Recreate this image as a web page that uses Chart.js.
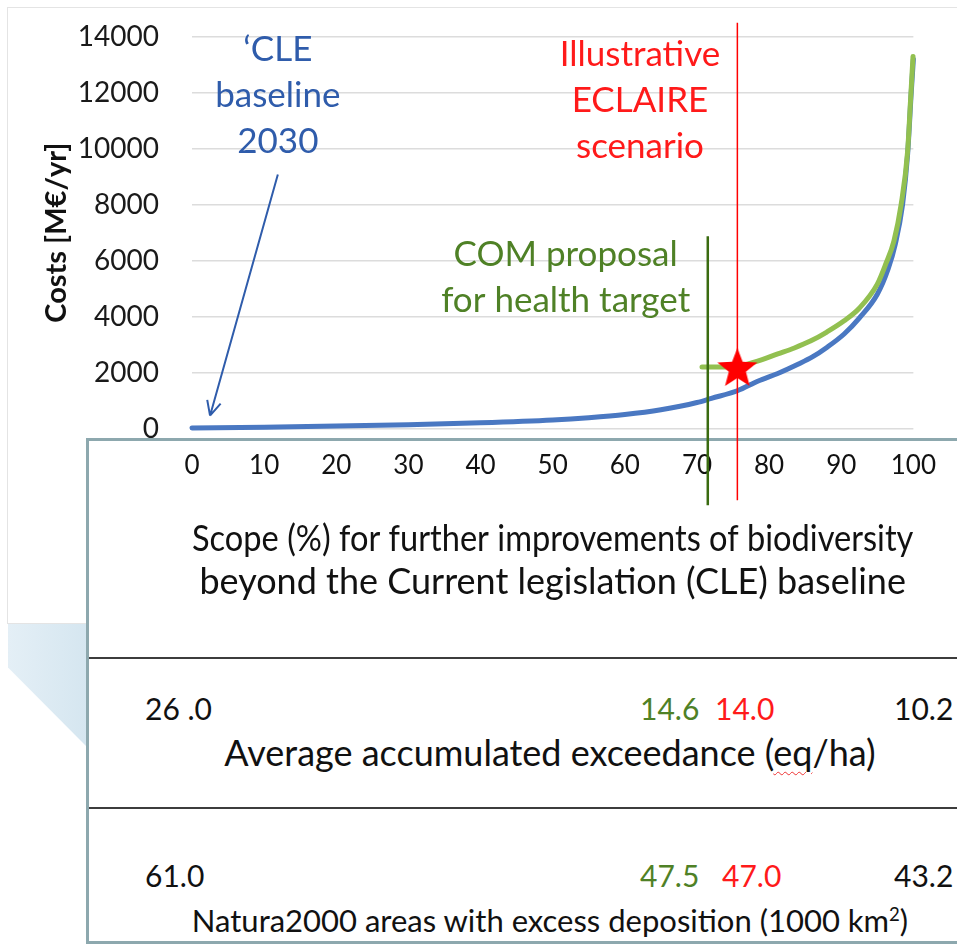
<!DOCTYPE html>
<html>
<head>
<meta charset="utf-8">
<script src="https://cdn.jsdelivr.net/npm/chart.js@4.4.0/dist/chart.umd.min.js"></script>
<style>
  body { margin: 0; background: #fff; font-family: Lato, sans-serif; }
  #wrap { position: relative; width: 957px; height: 944px; overflow: hidden; }
  #panel { position: absolute; left: 7px; top: 7px; width: 980px; height: 615px;
           border-left: 1.5px solid #e4e4e4; border-top: 1.5px solid #e4e4e4; border-bottom: 1.5px solid #e4e4e4; }
  #shape { position: absolute; left: 8px; top: 624px; width: 80px; height: 124px;
           background: linear-gradient(to right, #e4eff6, #d5e6f0);
           clip-path: polygon(0 0, 100% 0, 100% 100%, 0 35%); }
  #box { position: absolute; left: 86px; top: 438px; width: 900px; height: 500px;
         border: 3px solid #8da8ae; background: #fff; }
  .rule { position: absolute; left: 89px; width: 880px; height: 0; border-top: 2.5px solid #3c3c3c; }
  .cell { position: absolute; font-size: 30px; color: #111; white-space: nowrap; transform: translateY(-50%); }
  .label { position: absolute; left: 70px; width: 960px; text-align: center; color: #111;
           white-space: nowrap; transform: translateY(-50%); }
  .com { color: #4f8126; }
  .ecl { color: #ff1a1a; }
  .squig { text-decoration: underline wavy #e33; text-decoration-thickness: 1px; text-underline-offset: 5px; }
  canvas { position: absolute; left: 0; top: -13px; }
</style>
</head>
<body>
<div id="wrap">
  <div id="panel"></div>
  <div id="shape"></div>
  <div id="box"></div>
  <div class="rule" style="top:657px"></div>
  <div class="rule" style="top:807px"></div>
  <div id="rows"></div>
  <canvas id="myChart" width="957" height="944"></canvas>
</div>
<script>
// cost curves: scope for improvement (%) vs. costs (M€/yr)
const scopeBlue = [0, 10, 20, 30, 40, 50, 55, 60, 65, 70, 72, 75.6, 78.5, 81.2, 84, 86, 88, 90.4, 92.5, 95, 96.5, 97.5, 98.5, 99.2, 99.7, 100];
const costBlue  = [20, 50, 90, 140, 210, 310, 390, 500, 670, 930, 1080, 1350, 1700, 1970, 2300, 2560, 2900, 3380, 3950, 4800, 5700, 6600, 8000, 9800, 12000, 13200];

const scopeGreen = [70.7, 73, 75.6, 78.5, 81.2, 83.5, 85.8, 88, 90.4, 92.5, 95, 96.2, 97.3, 98.3, 99.2, 99.6, 99.95];
const costGreen  = [2200, 2200, 2230, 2420, 2670, 2880, 3135, 3450, 3850, 4300, 5160, 5900, 6700, 8000, 9900, 11700, 13300];

// marker lines and the ECLAIRE point
const comScope = 71.5;
const comLine = [6870, -2740];
const eclaireScope = 75.6;
const eclaireLine = [14500, -2560];
const eclaireCost = 2200;

const yMin = 0, yMax = 14000, yStep = 2000;
const xMin = 0, xMax = 100, xStep = 10;

// table under the chart
const rowLabels = ['Average accumulated exceedance (<span class="squig">eq</span>/ha)', 'Natura2000 areas with excess deposition (1000 km<sup style="font-size:60%">2</sup>)'];
const rowBaseline = ['26 .0', '61.0'];
const rowCom = ['14.6', '47.5'];
const rowEclaire = ['14.0', '47.0'];
const rowMax = ['10.2', '43.2'];

const rowsEl = document.getElementById('rows');
const valueTop = [708, 875];
const labelTop = [752, 920];
const labelSize = ['36px', '31px'];
rowLabels.forEach((lab, i) => {
    rowsEl.innerHTML +=
        '<div class="cell" style="left:145px;top:' + valueTop[i] + 'px">' + rowBaseline[i] + '</div>' +
        '<div class="cell com" style="left:640px;top:' + valueTop[i] + 'px">' + rowCom[i] + '</div>' +
        '<div class="cell ecl" style="left:' + (i === 0 ? 715 : 722) + 'px;top:' + valueTop[i] + 'px">' + rowEclaire[i] + '</div>' +
        '<div class="cell" style="left:894px;top:' + valueTop[i] + 'px">' + rowMax[i] + '</div>' +
        '<div class="label" style="top:' + labelTop[i] + 'px;font-size:' + labelSize[i] + '">' + lab + '</div>';
});

// filled star used as point style
function makeStar() {
    const c = document.createElement('canvas');
    c.width = 48; c.height = 48;
    const g = c.getContext('2d');
    const R = 21, r = 9;
    g.beginPath();
    for (let i = 0; i < 10; i++) {
        const a = -Math.PI / 2 + i * Math.PI / 5;
        const rad = i % 2 ? r : R;
        g.lineTo(24 + rad * Math.cos(a), 26 + rad * Math.sin(a));
    }
    g.closePath();
    g.fillStyle = '#ff0000';
    g.fill();
    return c;
}

const annotations = {
    id: 'annotations',
    afterDatasetsDraw(chart) {
        const ctx = chart.ctx;
        const x = chart.scales.x, y = chart.scales.y;
        const X = v => x.getPixelForValue(v), Y = v => y.getPixelForValue(v);
        ctx.save();
        ctx.textAlign = 'center';
        ctx.textBaseline = 'middle';
        ctx.font = '35px Lato';
        ctx.fillStyle = '#2f5cab';
        ['\u2018CLE', 'baseline', '2030'].forEach((t, i) => ctx.fillText(t, X(11.9), Y(13540) + i * 46));
        ctx.fillStyle = '#ff1a1a';
        ['Illustrative', 'ECLAIRE', 'scenario'].forEach((t, i) => ctx.fillText(t, X(62.1), Y(13360) + i * 46));
        ctx.fillStyle = '#4f8126';
        ['COM proposal', 'for health target'].forEach((t, i) => ctx.fillText(t, X(51.8), Y(6230) + i * 46));

        // arrow to the CLE baseline
        ctx.strokeStyle = '#2f5cab';
        ctx.lineWidth = 2;
        const x0 = X(11.9), y0 = Y(9080), x1 = X(2.5), y1 = Y(460);
        ctx.beginPath();
        ctx.moveTo(x0, y0);
        ctx.lineTo(x1, y1);
        const ang = Math.atan2(y1 - y0, x1 - x0);
        [0.45, -0.45].forEach(d => {
            ctx.moveTo(x1, y1);
            ctx.lineTo(x1 - 16 * Math.cos(ang + d), y1 - 16 * Math.sin(ang + d));
        });
        ctx.stroke();
        ctx.restore();
    }
};

const ctx = document.getElementById('myChart').getContext('2d');

new Chart(ctx, {
    type: 'line',
    data: {
        datasets: [
            {
                data: [{ x: eclaireScope, y: eclaireCost }],
                pointStyle: makeStar(),
                pointRadius: 20,
                showLine: false,
                order: 0
            },
            {
                data: eclaireLine.map(v => ({ x: eclaireScope, y: v })),
                borderColor: '#ff0000',
                borderWidth: 1.5,
                pointRadius: 0,
                clip: false,
                order: 1
            },
            {
                data: comLine.map(v => ({ x: comScope, y: v })),
                borderColor: '#3a6b10',
                borderWidth: 2.5,
                pointRadius: 0,
                clip: false,
                order: 2
            },
            {
                data: scopeGreen.map((s, i) => ({ x: s, y: costGreen[i] })),
                borderColor: '#92c050',
                borderWidth: 5,
                pointRadius: 0,
                cubicInterpolationMode: 'monotone',
                borderCapStyle: 'round',
                clip: false,
                order: 3
            },
            {
                data: scopeBlue.map((s, i) => ({ x: s, y: costBlue[i] })),
                borderColor: '#4a78c2',
                borderWidth: 5,
                pointRadius: 0,
                cubicInterpolationMode: 'monotone',
                borderCapStyle: 'round',
                clip: false,
                order: 4
            }
        ]
    },
    options: {
        responsive: false,
        animation: false,
        devicePixelRatio: 1,
        layout: {
            padding: { top: 3, left: 39, right: 35, bottom: 328 }
        },
        plugins: {
            legend: { display: false },
            tooltip: { enabled: false }
        },
        scales: {
            x: {
                type: 'linear',
                min: xMin,
                max: xMax,
                border: { display: false },
                grid: { display: false, drawTicks: false },
                ticks: {
                    stepSize: xStep,
                    padding: 21,
                    color: '#111',
                    font: { family: 'Lato', size: 26 }
                },
                title: {
                    display: true,
                    text: ['Scope (%) for further improvements of biodiversity', 'beyond the Current legislation (CLE) baseline'],
                    color: '#111',
                    font: { family: 'Lato', size: 36, lineHeight: 1.17 },
                    padding: { top: 17, bottom: 0 }
                }
            },
            y: {
                min: yMin,
                max: yMax,
                border: { display: false },
                grid: { color: '#dcdcdc', lineWidth: 1.5, drawTicks: false },
                afterFit: scale => { scale.width = 153; },
                ticks: {
                    stepSize: yStep,
                    padding: 33,
                    color: '#1a1a1a',
                    font: { family: 'Lato', size: 28 },
                    callback: v => String(v)
                },
                title: {
                    display: true,
                    text: 'Costs [M\u20ac/yr]',
                    color: '#111',
                    font: { family: 'Lato', size: 29, weight: 'bold' },
                    padding: { top: 0, bottom: 6 }
                }
            }
        }
    },
    plugins: [annotations]
});
</script>
</body>
</html>
